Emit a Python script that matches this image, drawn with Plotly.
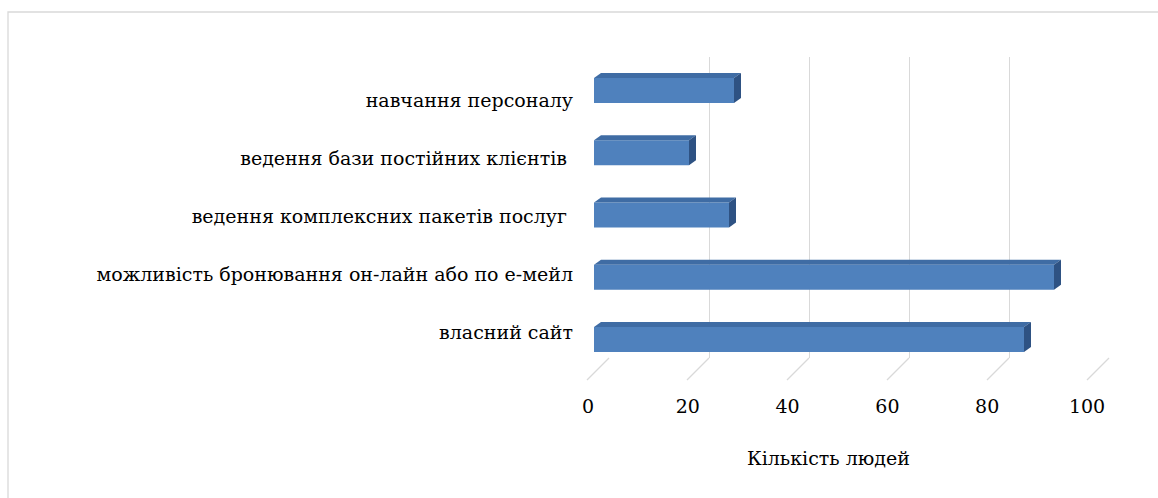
import plotly.graph_objects as go

# Categories from bottom to top, with the number of people for each
categories = [
    "власний сайт",
    "можливість бронювання он-лайн або по е-мейл",
    "ведення комплексних пакетів послуг ",
    "ведення бази постійних клієнтів ",
    "навчання персоналу",
]
people = [86, 92, 27, 19, 28]
x_ticks = [0, 20, 40, 60, 80, 100]
x_title = "Кількість людей"

W, H = 1158, 498
FONT = "DejaVu Serif"
FS = 19
GRID = "#d9d9d9"
FRONT = "#4f81bd"
TOP = "#3f6ca4"
SIDE = "#2e5283"


def px(x):
    return x / W


def py(y):
    return 1 - y / H


pos = list(range(len(categories)))
bar_w = 0.4
# depth of the extruded bars, in data units of the front plane
dx, dy = 1.4, 0.08

fig = go.Figure()
# empty helper trace so the back wall gets its own subplot (drawn first)
fig.add_trace(go.Scatter(x=[None], y=[None], xaxis="x", yaxis="y",
                         showlegend=False, hoverinfo="skip"))
# bars on the front plane, drawn above the wall grid
fig.add_trace(go.Bar(
    x=people, y=pos, orientation="h", width=bar_w,
    marker=dict(color=FRONT, line=dict(width=0)),
    xaxis="x2", yaxis="y2", hoverinfo="x+y", showlegend=False,
))
# empty helper trace for the value-label axis
fig.add_trace(go.Scatter(x=[None], y=[None], xaxis="x3", yaxis="y3",
                         showlegend=False, hoverinfo="skip"))

shapes = []
# floor diagonals running from each back gridline towards the front
for v in x_ticks:
    bx = 609 + 5 * v
    shapes.append(dict(type="line", xref="paper", yref="paper",
                       x0=px(bx), y0=py(358), x1=px(bx - 22), y1=py(380),
                       line=dict(color=GRID, width=1.2), layer="below"))

# top and side faces of every bar
for p, v in zip(pos, people):
    yt, yb = p + bar_w / 2, p - bar_w / 2
    shapes.append(dict(
        type="path", xref="x2", yref="y2", layer="above",
        path=f"M0,{yt} L{v},{yt} L{v + dx},{yt + dy} L{dx},{yt + dy} Z",
        fillcolor=TOP, line=dict(width=0)))
    shapes.append(dict(
        type="path", xref="x2", yref="y2", layer="above",
        path=f"M{v},{yt} L{v + dx},{yt + dy} L{v + dx},{yb + dy} L{v},{yb} Z",
        fillcolor=SIDE, line=dict(width=0)))

# chart area border (right and bottom edges fall outside the page)
shapes.append(dict(type="path", xref="paper", yref="paper",
                   path=f"M{px(8)},{py(H + 50)} L{px(8)},{py(12)} L{px(W + 50)},{py(12)}",
                   line=dict(color=GRID, width=1.3), layer="below"))

tick_font = dict(family=FONT, size=FS, color="black")

fig.update_layout(
    width=W, height=H, autosize=False,
    margin=dict(l=0, r=0, t=0, b=0, pad=0),
    paper_bgcolor="white", plot_bgcolor="rgba(0,0,0,0)",
    font=tick_font,
    shapes=shapes,
    # back wall with vertical gridlines and category labels
    xaxis=dict(domain=[px(609), px(1109)], range=[0, 100], anchor="y",
               tickvals=x_ticks, showgrid=True, gridcolor=GRID, gridwidth=1.2,
               zeroline=False, showticklabels=False, showline=False, ticks="",
               automargin=False),
    yaxis=dict(domain=[py(358), py(57)], range=[-0.45, 4.74], anchor="free",
               position=px(573), tickvals=pos, ticktext=categories,
               showgrid=False, zeroline=False, showline=False, ticks="",
               tickfont=tick_font, automargin=False),
    # front plane holding the bars
    xaxis2=dict(domain=[px(594), px(1094)], range=[0, 100], visible=False,
                anchor="y2", automargin=False),
    yaxis2=dict(domain=[py(370.6), py(59.4)], range=[-0.5, 4.5],
                visible=False, anchor="x2", automargin=False),
    # value labels along the front edge of the floor
    xaxis3=dict(domain=[px(588), px(1087)], range=[0, 100], anchor="free",
                position=py(393), tickvals=x_ticks, showgrid=False,
                zeroline=False, showline=False, ticks="", tickfont=tick_font,
                automargin=False),
    yaxis3=dict(domain=[py(400), py(390)], range=[0, 1], visible=False,
                anchor="x3", automargin=False),
    annotations=[dict(text=x_title, xref="paper", yref="paper",
                      x=px(828), y=py(458), xanchor="center", yanchor="middle",
                      showarrow=False, font=tick_font)],
)

fig.write_html("out.html")
